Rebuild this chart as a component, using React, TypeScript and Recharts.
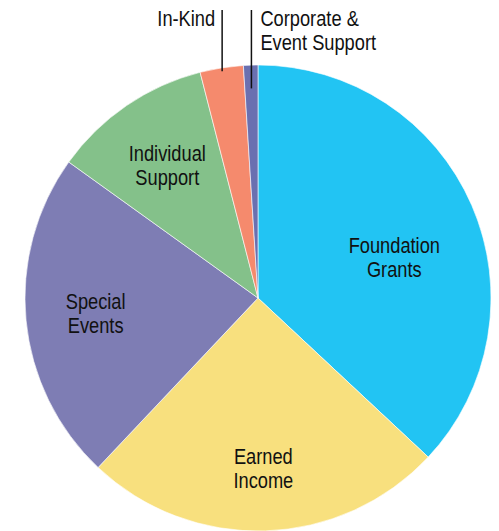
import React from 'react';
import { PieChart, Pie, Cell } from 'recharts';

const categories = ['Foundation Grants', 'Earned Income', 'Special Events', 'Individual Support', 'In-Kind', 'Corporate & Event Support'];
const values = [37, 25.1, 22.9, 11.1, 3.0, 1.0];
const labelLines = [['Foundation', 'Grants'], ['Earned', 'Income'], ['Special', 'Events'], ['Individual', 'Support'], ['In-Kind'], ['Corporate &', 'Event Support']];
const colors = ['#22c4f3', '#f8e07e', '#7e7db4', '#84c18a', '#f58a6d', '#6a70b0'];
const insideLabelPlacement = [{ r: 0.61, da: -7 }, { r: 0.73, da: 0 }, { r: 0.7, da: 0 }, { r: 0.69, da: 0 }];

const data = categories.map((name, i) => ({ name, value: values[i] }));
const RADIAN = Math.PI / 180;
const FONT = '"Liberation Sans", Arial, sans-serif';
const FS = 22;
const SX = 0.83;

const renderLabel = (props: any) => {
  const { cx, cy, midAngle, outerRadius, index } = props;
  const lines = labelLines[index];
  if (index < 4) {
    const p = insideLabelPlacement[index];
    const a = (midAngle + p.da) * RADIAN;
    const r = outerRadius * p.r;
    const x = cx + r * Math.cos(a);
    const y = cy - r * Math.sin(a);
    return (
      <text key={`l${index}`} transform={`translate(${x} ${y}) scale(${SX} 1)`} textAnchor="middle" fontFamily={FONT} fontSize={FS} fill="#111">
        {lines.map((t, j) => (
          <tspan key={j} x={0} y={(j - (lines.length - 1) / 2) * 24} dominantBaseline="central">{t}</tspan>
        ))}
      </text>
    );
  }
  const a = midAngle * RADIAN;
  const rIn = index === 4 ? outerRadius * 0.985 : outerRadius * 0.9;
  const x = cx + rIn * Math.cos(a);
  const y = cy - rIn * Math.sin(a);
  const topY = 10;
  const left = index === 4;
  const tx = left ? x - 7 : x + 9;
  return (
    <g key={`l${index}`}>
      <line x1={x} y1={y} x2={x} y2={topY} stroke="#111" strokeWidth={1.5} />
      <text transform={`translate(${tx} ${topY}) scale(${SX} 1)`} textAnchor={left ? 'end' : 'start'} fontFamily={FONT} fontSize={FS} fill="#111">
        {lines.map((t, j) => (
          <tspan key={j} x={0} y={8 + j * 24} dominantBaseline="central">{t}</tspan>
        ))}
      </text>
    </g>
  );
};

export default function App() {
  return (
    <div style={{ position: 'absolute', left: 0, top: 0, width: 499, height: 531, background: '#fff' }}>
      <PieChart width={499} height={531} margin={{ top: 0, right: 0, bottom: 0, left: 0 }}>
        <Pie
          data={data}
          dataKey="value"
          nameKey="name"
          cx={258}
          cy={298}
          outerRadius={233}
          startAngle={90}
          endAngle={-270}
          stroke="#ffffff"
          strokeWidth={0.6}
          label={renderLabel}
          labelLine={false}
          isAnimationActive={false}
        >
          {data.map((d, i) => (
            <Cell key={d.name} fill={colors[i]} />
          ))}
        </Pie>
      </PieChart>
    </div>
  );
}
